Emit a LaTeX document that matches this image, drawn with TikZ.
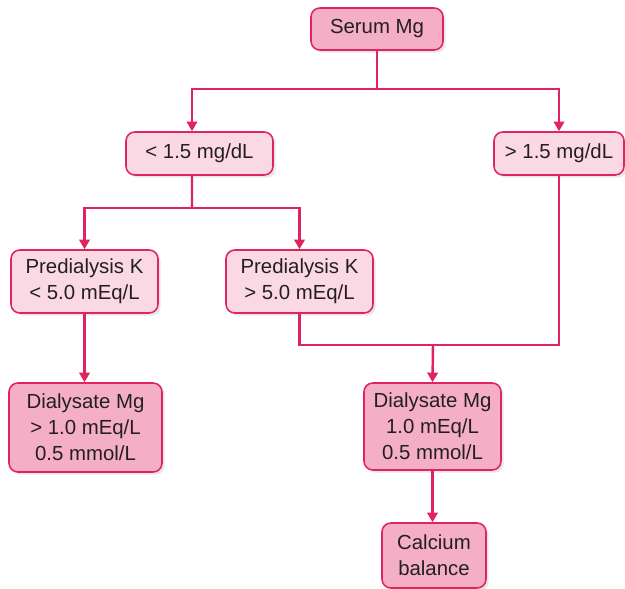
\documentclass[tikz,border=0pt]{standalone}
\usepackage{fontspec}
\setmainfont{Liberation Sans}
\usetikzlibrary{arrows.meta, positioning, shadows}
\definecolor{crimson}{HTML}{E0245E}
\definecolor{pinkdark}{HTML}{F4AFC6}
\definecolor{pinklight}{HTML}{FBD9E4}
\definecolor{inkgrey}{HTML}{231F20}

\begin{document}
\begin{tikzpicture}[x=0.02cm, y=-0.02cm, font=\fontsize{11.6}{14.8}\selectfont, text=inkgrey,
    box/.style={rectangle, rounded corners=5pt, draw=crimson, line width=0.9pt, align=center, inner sep=0pt,
        drop shadow={opacity=0.18, shadow xshift=1.5pt, shadow yshift=-1.5pt}},
    light/.style={box, fill=pinklight},
    dark/.style={box, fill=pinkdark},
    link/.style={draw=crimson, line width=1.4pt},
    arr/.style={link, -{Triangle[length=5.5pt, width=6pt]}}]
    \useasboundingbox (0,0) rectangle (625,588);

    \node (SerumMg) [dark, minimum width=2.64cm, minimum height=0.84cm] at (377,29) {Serum Mg};
    \node (Low) [light, minimum width=2.94cm, minimum height=0.86cm] at (199.5,153.5) {< 1.5 mg/dL};
    \node (High) [light, minimum width=2.6cm, minimum height=0.86cm] at (559,153.5) {> 1.5 mg/dL};

    \node (PredLow) [light, minimum width=2.94cm, minimum height=1.26cm] at (84.5,281.5) {Predialysis K\\< 5.0 mEq/L};
    \node (PredHigh) [light, minimum width=2.94cm, minimum height=1.26cm] at (299.5,281.5) {Predialysis K\\> 5.0 mEq/L};

    \node (DialLow) [dark, minimum width=3.06cm, minimum height=1.78cm] at (85.5,427.5) {Dialysate Mg\\> 1.0 mEq/L\\0.5 mmol/L};
    \node (DialHigh) [dark, minimum width=2.74cm, minimum height=1.74cm] at (432.5,426.5) {Dialysate Mg\\1.0 mEq/L\\0.5 mmol/L};
    \node (Calcium) [dark, minimum width=2.08cm, minimum height=1.3cm] at (434,555.5) {Calcium\\balance};

    % serum level split
    \coordinate (split1) at (377,89);
    \draw[link] (SerumMg.south) -- (split1);
    \draw[arr] (split1) -| ([xshift=-0.15cm]Low.north);
    \draw[arr] (split1) -| (High.north);

    % potassium split
    \coordinate (split2) at (192,208);
    \draw[link] ([xshift=-0.15cm]Low.south) -- (split2);
    \draw[arr] (split2) -| (PredLow.north);
    \draw[arr] (split2) -| (PredHigh.north);

    \draw[arr] (PredLow.south) -- (PredLow.south |- DialLow.north);

    % join to the 1.0 mEq/L bath
    \coordinate (join) at (433,345);
    \draw[link] (PredHigh.south) |- (join);
    \draw[link] (High.south) |- (join);
    \draw[arr] (join) -- (DialHigh.north);
    \draw[arr] (DialHigh.south) -- (DialHigh.south |- Calcium.north);

\end{tikzpicture}
\end{document}
